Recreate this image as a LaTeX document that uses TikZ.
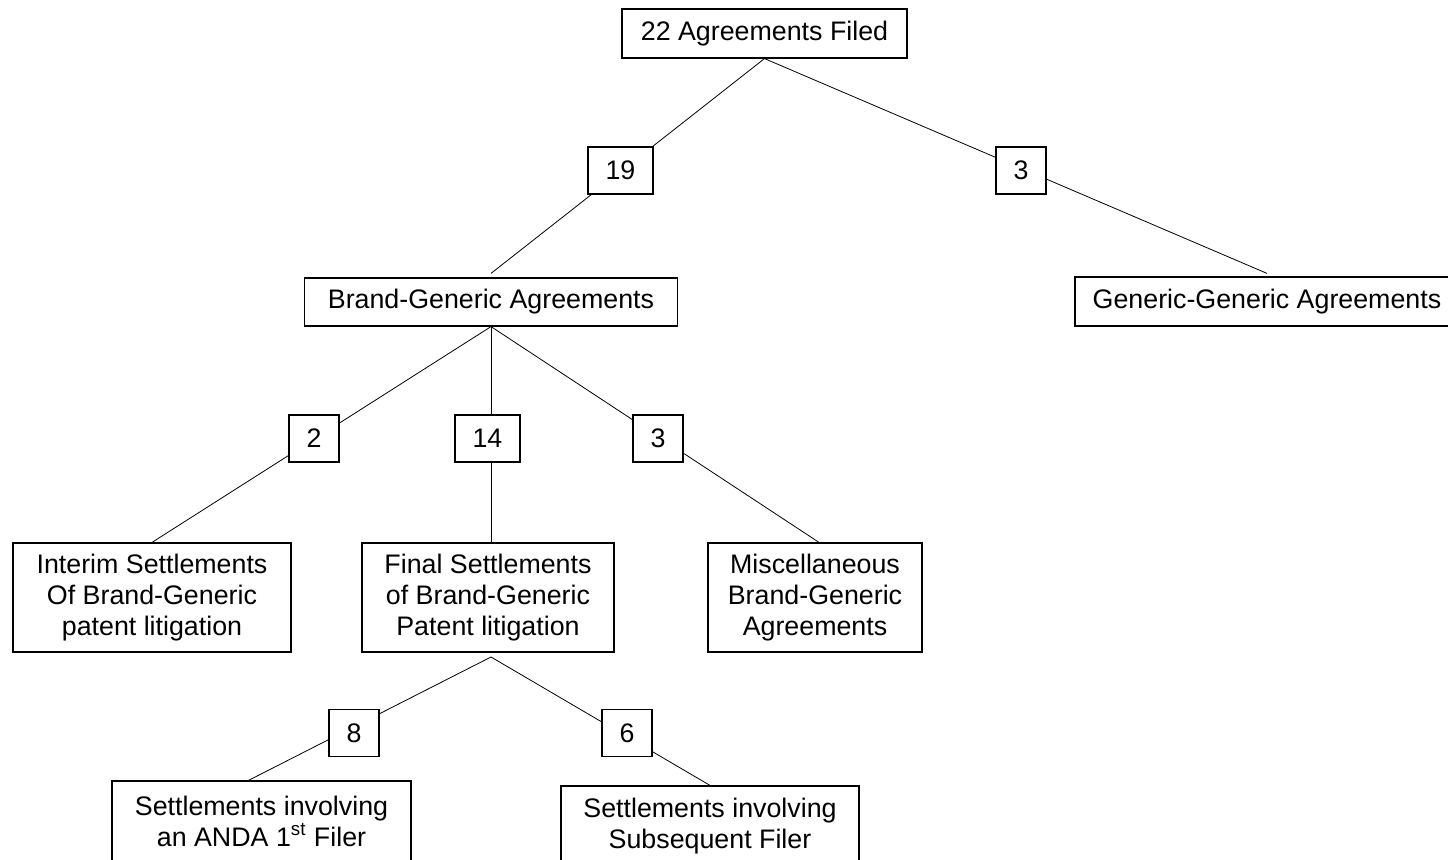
\documentclass[tikz,border=0pt]{standalone}
\usepackage{fontspec}
\setmainfont{Liberation Sans}
\usepackage{tikz}
\usetikzlibrary{positioning,calc,backgrounds}

\begin{document}
\begin{tikzpicture}[x=0.5pt,y=-0.5pt,line width=0.6pt,
    every node/.style={font=\fontsize{13.4}{15.5}\selectfont,align=center,inner sep=0pt},
    box/.style={draw,minimum width=#1},
    numbox/.style={draw,fill=white,minimum height=23.5pt}]
  \useasboundingbox (0,0) rectangle (1448,860);
  % main boxes
  \node[box=142.5pt,minimum height=24.5pt] (filed) at (764.5,33.5) {22 Agreements Filed};
  \node[box=186.5pt,minimum height=24pt] (bg) at (491,302) {Brand-Generic Agreements};
  \node[box=192pt,minimum height=24.5pt] (gg) at (1267,301.5) {Generic-Generic Agreements};
  \node[box=139pt,minimum height=54.5pt] (interim) at (152,597.5)
    {Interim Settlements\\Of Brand-Generic\\patent litigation};
  \node[box=126pt,minimum height=54.5pt] (final) at (488,597.5)
    {Final Settlements\\of Brand-Generic\\Patent litigation};
  \node[box=107pt,minimum height=54.5pt] (misc) at (815,597.5)
    {Miscellaneous\\Brand-Generic\\Agreements};
  \node[box=149.5pt,minimum height=40pt] (first) at (261.5,821)
    {Settlements involving\\an ANDA 1\textsuperscript{st} Filer};
  \node[box=149pt,minimum height=40.5pt] (subs) at (710,826.5)
    {Settlements involving\\Subsequent Filer};
  % split point under final settlements
  \coordinate (split) at (491,657);
  % counts
  \node[numbox,minimum width=32.5pt] (n19) at (620.5,170.5) {19};
  \node[numbox,minimum width=25pt] (n3a) at (1021,170.5) {3};
  \node[numbox,minimum width=25pt] (n2) at (314,438.5) {2};
  \node[numbox,minimum width=32.5pt] (n14) at (487.5,438.5) {14};
  \node[numbox,minimum width=25pt] (n3b) at (658,438.5) {3};
  \node[numbox,minimum width=25pt] (n8) at (354,733) {8};
  \node[numbox,minimum width=25pt] (n6) at (627,733) {6};
  % connectors
  \begin{scope}[on background layer]
    \draw (filed.south) -- ([yshift=2pt]bg.north);
    \draw (filed.south) -- ([yshift=1.5pt]gg.north);
    \draw (bg.south) -- (interim.north);
    \draw (bg.south) -- (bg.south |- final.north);
    \draw (bg.south) -- ([xshift=2pt]misc.north);
    \draw (split) -- ([xshift=-6.5pt]first.north);
    \draw (split) -- (subs.north);
  \end{scope}
\end{tikzpicture}
\end{document}
